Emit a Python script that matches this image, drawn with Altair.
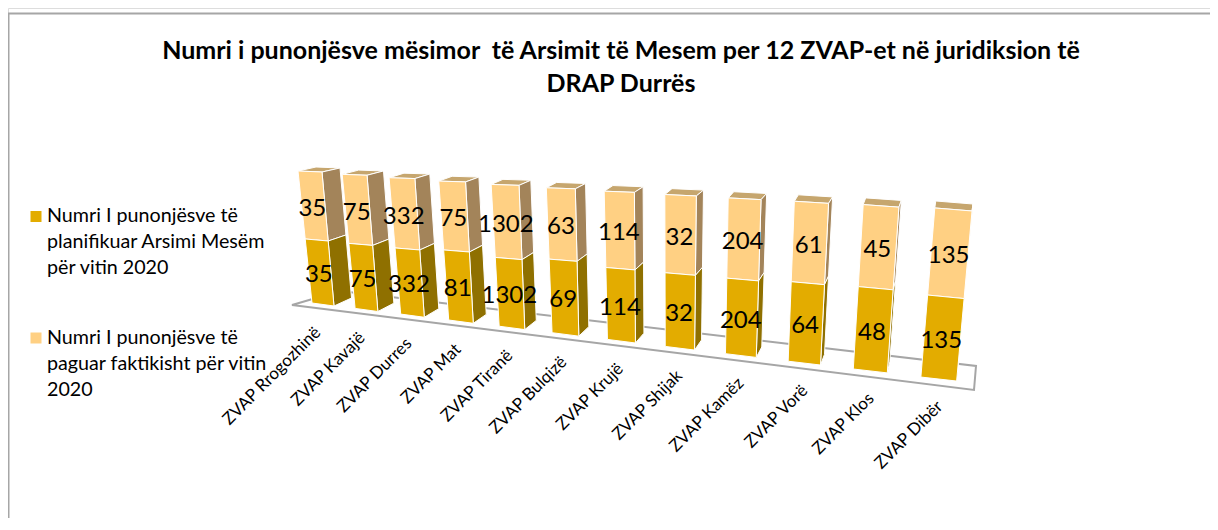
import altair as alt
import pandas as pd

categories = ["ZVAP Rrogozhinë", "ZVAP Kavajë", "ZVAP Durres", "ZVAP Mat", "ZVAP Tiranë", "ZVAP Bulqizë",
              "ZVAP Krujë", "ZVAP Shijak", "ZVAP Kamëz", "ZVAP  Vorë", "ZVAP Klos", "ZVAP Dibër"]
planned = [35, 75, 332, 81, 1302, 69, 114, 32, 204, 64, 48, 135]
paid = [35, 75, 332, 75, 1302, 63, 114, 32, 204, 61, 45, 135]
legend_lines = [
    ["Numri I punonjësve të", "planifikuar Arsimi Mesëm", "për vitin 2020"],
    ["Numri I punonjësve të", "paguar faktikisht për vitin", "2020"],
]
title_lines = ["Numri i punonjësve mësimor\u00a0 të Arsimit të Mesem per 12 ZVAP-et në juridiksion të", "DRAP Durrës"]

FONT = "Lato"
GOLD, LIGHT, GOLD_SIDE, LIGHT_SIDE, TOP = "#E3AC00", "#FFD083", "#8F7000", "#A3845A", "#C6A66E"


def quad(a, b, c, i):
    return a + b * i + c * i * i


# pseudo-3D projection of a 100% stacked column chart (column index -> stage position)
def corners(i):
    return {
        "tl": (quad(298, 42.8, 1.372, i), quad(171, 3.36, 0, i)),
        "tr": (quad(322, 43.64, 1.405, i), quad(172, 3.215, 0.03, i)),
        "bl": (quad(312, 41.9, 1.223, i), quad(303, 5.28, 0.132, i)),
        "br": (quad(334, 42.6, 1.273, i), quad(306, 5.37, 0.132, i)),
    }


def lerp(p, q, t):
    return (p[0] + (q[0] - p[0]) * t, p[1] + (q[1] - p[1]) * t)


def shift(p, dx, dy):
    return (p[0] + dx, p[1] + dy)


polys, labels, cat_labels = [], [], []
pid = 0


def add_poly(points, part):
    global pid
    for k, (x, y) in enumerate(points):
        polys.append({"poly": pid, "k": k, "x": x, "y": y, "part": part})
    pid += 1


for i, (cat, a, b) in enumerate(zip(categories, planned, paid)):
    c = corners(i)
    s = a / (a + b)
    t = s / (s + (1 - s) * 1.062)  # foreshortened height of the lower segment
    ml, mr = lerp(c["bl"], c["tl"], t), lerp(c["br"], c["tr"], t)
    dxt, dyt = 18 - 1.55 * i, -4 - 0.27 * i
    dxb, dyb = 17.5 - 1.5 * i, -8 - 0.3 * i
    btr, bbr = shift(c["tr"], dxt, dyt), shift(c["br"], dxb, dyb)
    bmr = lerp(bbr, btr, t)
    btl = shift(c["tl"], dxt, dyt)
    add_poly([c["tl"], c["tr"], btr, btl], "top")
    add_poly([mr, c["tr"], btr, bmr], "light_side")
    add_poly([c["br"], mr, bmr, bbr], "gold_side")
    add_poly([ml, mr, c["tr"], c["tl"]], "light")
    add_poly([c["bl"], c["br"], mr, ml], "gold")
    labels.append({"x": (ml[0] + mr[0] + c["tl"][0] + c["tr"][0]) / 4 - 1,
                   "y": (ml[1] + mr[1] + c["tl"][1] + c["tr"][1]) / 4 + 3, "t": str(b)})
    labels.append({"x": (ml[0] + mr[0] + c["bl"][0] + c["br"][0]) / 4 - 1,
                   "y": (ml[1] + mr[1] + c["bl"][1] + c["br"][1]) / 4 + 3, "t": str(a)})
    cat_labels.append({"x": c["bl"][0] + 6 + 1.2 * i, "y": c["bl"][1] + 27, "t": cat})

X = alt.Scale(domain=[8, 1210], nice=False, zero=False)
Y = alt.Scale(domain=[518, 8], nice=False, zero=False)
xe = alt.X("x:Q", scale=X, axis=None)
ye = alt.Y("y:Q", scale=Y, axis=None)

frame = alt.Chart(pd.DataFrame({"x": [8.5, 8.5, 1210], "y": [518, 13.5, 13.5], "k": [0, 1, 2]})).mark_line(
    color="#A6A6A6", strokeWidth=2).encode(x=xe, y=ye, order="k:Q")

floor = alt.Chart(pd.DataFrame({"x": [340, 292, 974, 976, 340], "y": [291, 305, 390, 366, 291], "k": range(5)})).mark_line(
    color="#A6A6A6", strokeWidth=2).encode(x=xe, y=ye, order="k:Q")

bars = alt.Chart(pd.DataFrame(polys)).mark_line(
    filled=True, stroke="white", strokeWidth=1, interpolate="linear-closed"
).encode(
    x=xe, y=ye, order="k:Q", detail="poly:N",
    fill=alt.Fill("part:N", legend=None, scale=alt.Scale(
        domain=["gold", "light", "gold_side", "light_side", "top"],
        range=[GOLD, LIGHT, GOLD_SIDE, LIGHT_SIDE, TOP])),
)

value_text = alt.Chart(pd.DataFrame(labels)).mark_text(font=FONT, fontSize=24, color="black").encode(x=xe, y=ye, text="t:N")

cat_text = alt.Chart(pd.DataFrame(cat_labels)).mark_text(
    font=FONT, fontSize=17, color="black", angle=315, align="right", baseline="middle"
).encode(x=xe, y=ye, text="t:N")

leg_rows = []
for n, lines in enumerate(legend_lines):
    for m, line in enumerate(lines):
        leg_rows.append({"x": 47, "y": (216, 338)[n] + 26 * m, "t": line})
legend_text = alt.Chart(pd.DataFrame(leg_rows)).mark_text(
    font=FONT, fontSize=19.7, color="black", align="left", baseline="middle"
).encode(x=xe, y=ye, text="t:N")
legend_sym = alt.Chart(pd.DataFrame({"x": [36, 36], "y": [216.5, 338], "part": [GOLD, LIGHT]})).mark_square(
    size=121, opacity=1, filled=True
).encode(x=xe, y=ye, color=alt.Color("part:N", scale=None))

chart = alt.layer(frame, floor, bars, value_text, cat_text, legend_text, legend_sym).properties(
    width=1202, height=510, padding=0,
    autosize=alt.AutoSizeParams(type="none"),
    title=alt.TitleParams(text=title_lines, font=FONT, fontSize=25, fontWeight="bold", color="black",
                          anchor="middle", frame="group", orient="top", lineHeight=33, dx=12, dy=89, offset=0),
).configure_view(stroke=None).configure(background="white")

chart.save("out.html", embed_options={"renderer": "svg", "actions": False})
